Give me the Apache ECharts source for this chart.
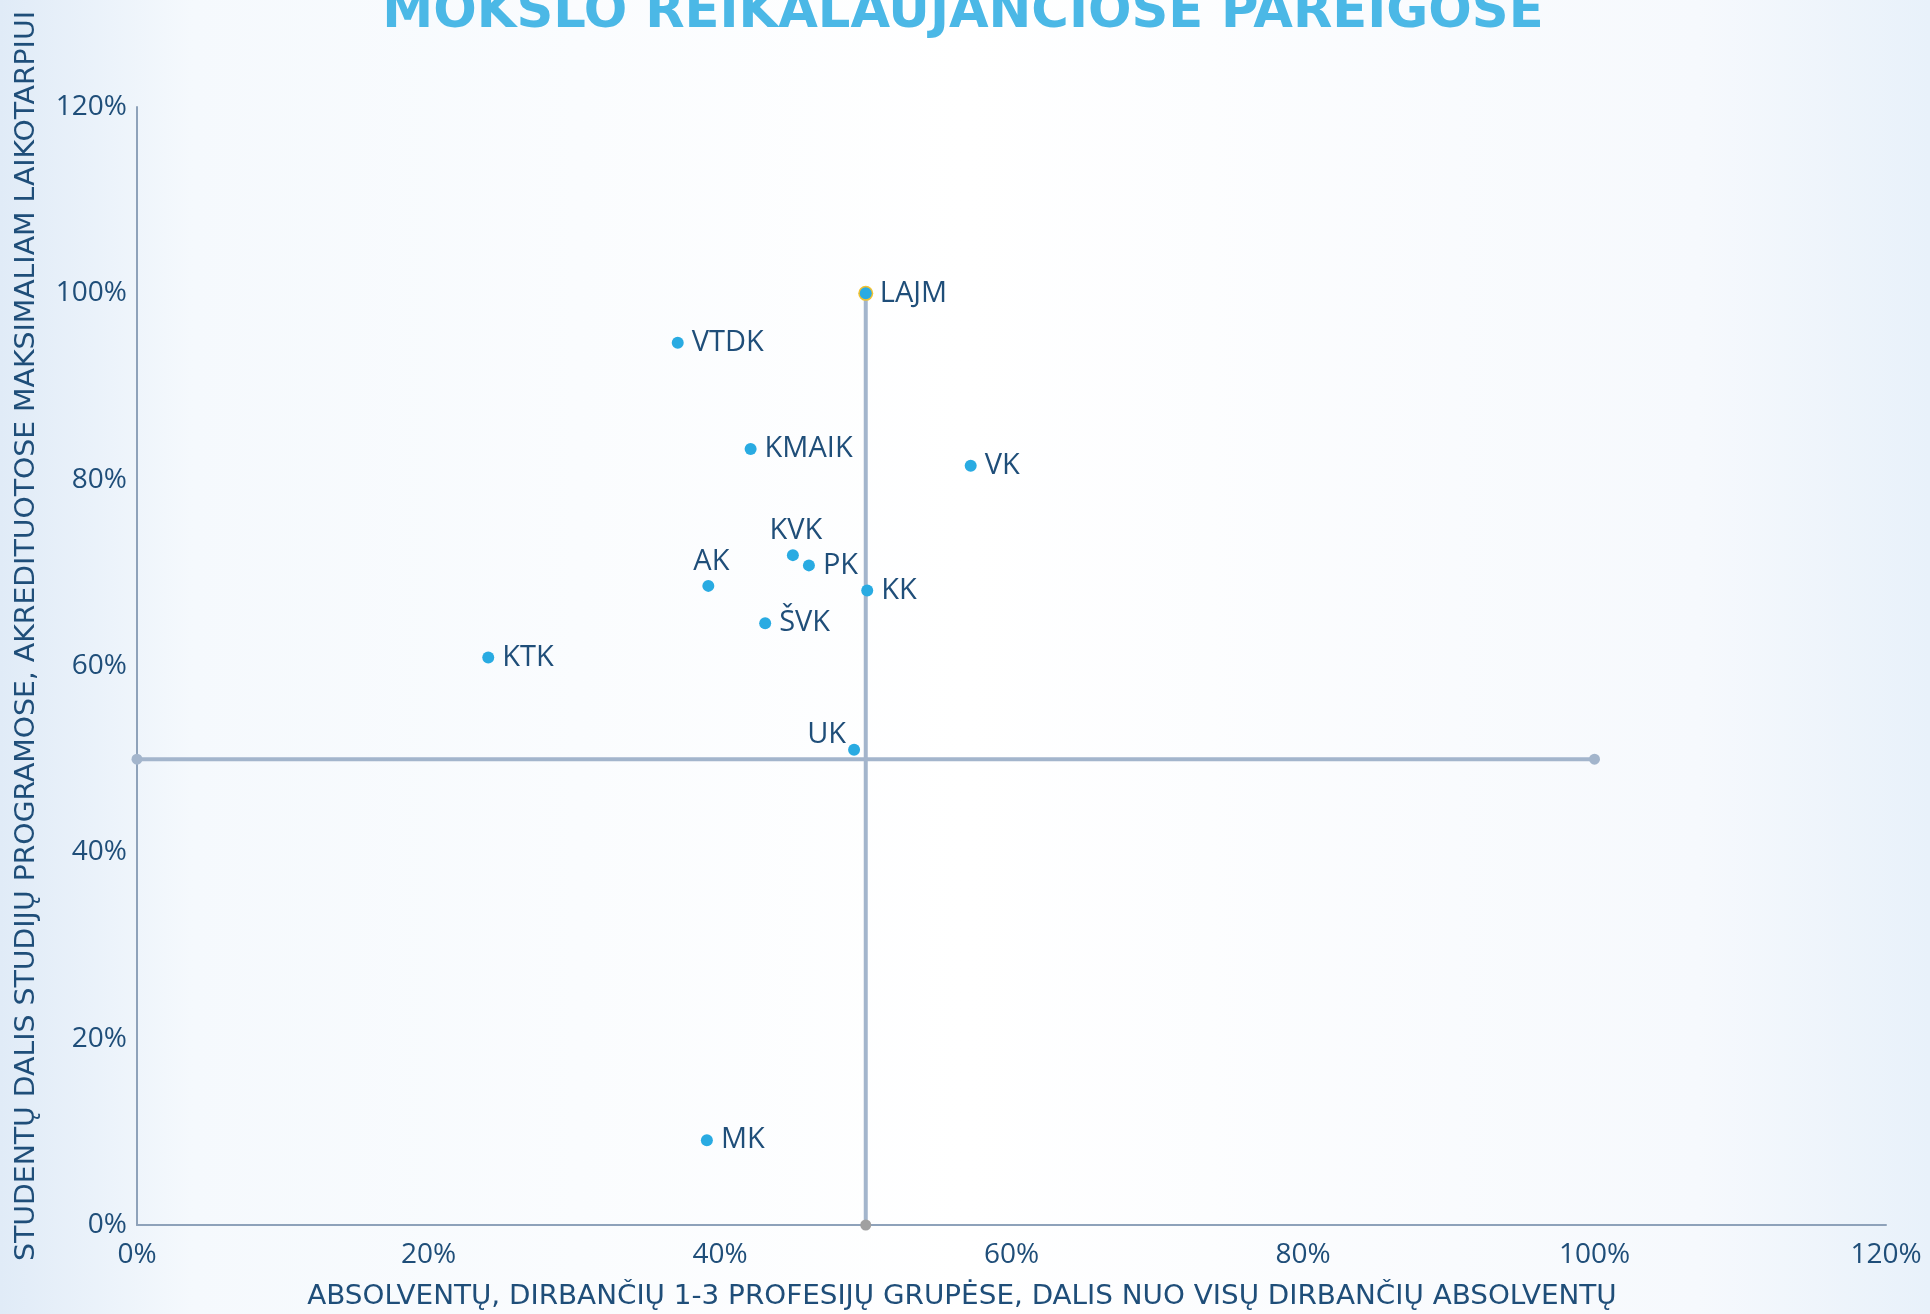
<!DOCTYPE html>
<html><head><meta charset="utf-8">
<script src="https://cdn.jsdelivr.net/npm/echarts@6/dist/echarts.min.js"></script>
<style>html,body{margin:0;padding:0;background:#fff;}#c{width:1930px;height:1314px;}</style>
</head><body><div id="c"></div>
<script>
const titleText = 'MOKSLO REIKALAUJANČIOSE PAREIGOSE';
const xAxisTitle = 'ABSOLVENTŲ, DIRBANČIŲ 1-3 PROFESIJŲ GRUPĖSE, DALIS NUO VISŲ DIRBANČIŲ ABSOLVENTŲ';
const yAxisTitle = 'STUDENTŲ DALIS STUDIJŲ PROGRAMOSE, AKREDITUOTOSE MAKSIMALIAM LAIKOTARPIUI';
const pointNames = ['LAJM','VTDK','KMAIK','VK','KVK','PK','AK','KK','ŠVK','KTK','UK','MK'];
const xValues = [50.0, 37.1, 42.1, 57.2, 45.0, 46.1, 39.2, 50.1, 43.1, 24.1, 49.2, 39.1];
const yValues = [100.0, 94.7, 83.3, 81.5, 71.9, 70.8, 68.6, 68.1, 64.6, 60.9, 51.0, 9.1];
const labelSide = ['right','right','right','right','top','right','top','right','right','right','left','right'];
const hLine = [[0, 50], [100, 50]];
const vLine = [[50, 0], [50, 100]];
const axisMin = 0, axisMax = 120, axisStep = 20;

const labelColor = '#1f4e79';
const ff = '"Open Sans", "Noto Sans", sans-serif';
const condensed = '"DejaVu Sans Condensed", "Liberation Sans Narrow", "Open Sans", sans-serif';

const scatterData = pointNames.map((n, i) => {
  const side = labelSide[i];
  const lbl = { show: true, position: side, formatter: n, distance: 8, color: labelColor,
    fontSize: 29, fontFamily: ff, textBorderWidth: 0, textShadowBlur: 0, opacity: 1 };
  if (side === 'top') { lbl.distance = 4; lbl.offset = [3, 0]; }
  if (side === 'left') { lbl.distance = 4; lbl.offset = [2, -15]; }
  return { value: [xValues[i], yValues[i]], label: lbl };
});

const chart = echarts.init(document.getElementById('c'), null, { renderer: 'canvas' });
chart.setOption({
  animation: false,
  backgroundColor: {
    type: 'linear', x: 0, y: 0, x2: 1, y2: 0,
    colorStops: [
      { offset: 0, color: '#e0ebf7' }, { offset: 0.1, color: '#f5f9fd' },
      { offset: 0.5, color: '#ffffff' }, { offset: 0.88, color: '#f6f9fd' },
      { offset: 1, color: '#e8f1fa' }
    ]
  },
  grid: { left: 137, right: 44, top: 107, bottom: 89 },
  xAxis: {
    type: 'value', min: axisMin, max: axisMax, interval: axisStep,
    axisLine: { show: true, lineStyle: { color: '#8ea2ba', width: 2 } },
    axisTick: { show: false }, splitLine: { show: false },
    axisLabel: { color: labelColor, fontSize: 28, fontFamily: ff, margin: 16, formatter: '{value}%' }
  },
  yAxis: {
    type: 'value', min: axisMin, max: axisMax, interval: axisStep,
    axisLine: { show: true, lineStyle: { color: '#8ea2ba', width: 2 } },
    axisTick: { show: false }, splitLine: { show: false },
    axisLabel: { color: labelColor, fontSize: 28, fontFamily: ff, margin: 10, formatter: '{value}%' }
  },
  series: [
    {
      type: 'line', data: hLine, z: 2, symbol: 'circle', symbolSize: 11,
      lineStyle: { color: '#a3b5cc', width: 4 }, itemStyle: { color: '#a3b5cc' }
    },
    {
      type: 'line', data: vLine.map((p, i) => ({ value: p, symbolSize: i === 1 ? 15 : 11,
        itemStyle: { color: i === 1 ? '#f2c230' : '#a0a0a0' } })),
      z: 2, symbol: 'circle',
      lineStyle: { color: '#a3b5cc', width: 4 }
    },
    {
      type: 'scatter', data: scatterData, z: 5, symbolSize: 12,
      itemStyle: { color: '#29abe2', opacity: 1 },
      label: { color: labelColor, fontSize: 29, fontFamily: ff },
      emphasis: { disabled: true }
    }
  ],
  graphic: [
    { type: 'text', z: 10, x: 963, y: -13, scaleX: 1.094, style: { text: titleText, fill: '#4bb8e6', font: 'bold 52px ' + condensed, align: 'center', verticalAlign: 'top' } },
    { type: 'text', z: 10, x: 962, y: 1297, scaleX: 1.19, style: { text: xAxisTitle, fill: labelColor, font: '26px ' + condensed, align: 'center', verticalAlign: 'middle' } },
    { type: 'text', z: 10, x: 27, y: 636, rotation: Math.PI / 2, scaleX: 1.21, style: { text: yAxisTitle, fill: labelColor, font: '26px ' + condensed, align: 'center', verticalAlign: 'middle' } }
  ]
});
</script></body></html>
